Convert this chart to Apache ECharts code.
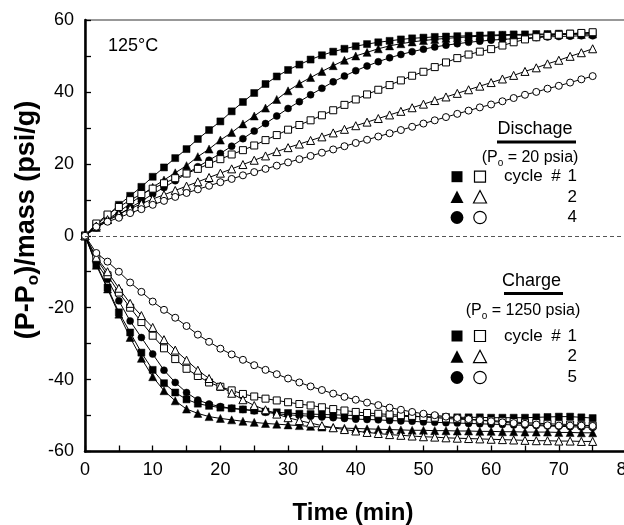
<!DOCTYPE html>
<html>
<head>
<meta charset="utf-8">
<script src="https://cdn.jsdelivr.net/npm/echarts@6/dist/echarts.min.js"></script>
<style>
html,body{margin:0;padding:0;background:#fff;}
#chart{width:624px;height:525px;}
</style>
</head>
<body>
<div id="chart"></div>
<script>
// Time axis (min)
var times = [0,1.67,3.33,5, 6.67,8.33,10, 11.67,13.33,15, 16.67,18.33,20, 21.67,23.33,25, 26.67,28.33,30, 31.67,33.33,35, 36.67,38.33,40, 41.67,43.33,45, 46.67,48.33,50, 51.67,53.33,55, 56.67,58.33,60, 61.67,63.33,65, 66.67,68.33,70, 71.67,73.33,75];

// Discharge (Po = 20 psia)
var disCycle1Filled = [0,3.0,5.6,8.6, 11.1,13.6,16.4, 19.0,21.6,24.1, 26.9,29.4,31.8, 34.6,37.2,39.7, 42.2,44.3,46.1, 47.6,49.0,50.2, 51.2,52.0,52.7, 53.3,53.8,54.2, 54.6,54.9,55.1, 55.3,55.4,55.5, 55.6,55.7,55.8, 55.9,56.0,56.0, 56.1,56.1,56.2, 56.2,56.3,56.3];
var disCycle2Filled = [0,2.3,4.5,6.7, 8.9,11.2,13.5, 15.5,17.5,19.5, 22.0,24.1,26.6, 28.7,31.1,33.3, 35.5,37.9,40.3, 42.3,44.0,45.7, 47.3,48.8,50.0, 51.0,52.0,52.8, 53.4,53.9,54.3, 54.6,54.9,55.1, 55.3,55.5,55.6, 55.7,55.8,55.8, 55.9,55.9,56.0, 56.0,56.0,56.1];
var disCycle4Filled = [0,2.2,4.1,5.9, 7.8,9.6,11.6, 13.4,15.3,17.3, 19.2,21.0,22.9, 24.9,27.0,29.1, 31.2,33.3,35.4, 37.3,39.2,41.0, 42.8,44.4,45.9, 47.2,48.4,49.5, 50.4,51.2,51.9, 52.5,53.0,53.4, 53.8,54.1,54.4, 54.6,54.8,55.0, 55.1,55.3,55.4, 55.5,55.6,55.6];
var disCycle1Open = [0,3.4,5.9,8.0, 9.9,11.6,13.1, 14.6,16.0,17.3, 18.6,20.0,21.3, 22.6,23.8,25.1, 26.6,28.0,29.5, 30.8,32.1,33.5, 34.9,36.4,37.9, 39.3,40.6,41.9, 43.2,44.5,45.6, 46.9,48.2,49.4, 50.4,51.2,51.9, 52.9,53.8,54.6, 55.2,55.6,55.9, 56.2,56.4,56.6];
var disCycle2Open = [0,2.7,4.5,6.0, 7.5,8.9,10.2, 11.4,12.6,13.8, 15.0,16.2,17.4, 18.6,19.8,21.0, 22.2,23.4,24.5, 25.5,26.5,27.5, 28.6,29.6,30.6, 31.6,32.6,33.6, 34.6,35.6,36.6, 37.6,38.6,39.6, 40.6,41.6,42.6, 43.6,44.6,45.7, 46.7,47.8,48.8, 49.9,50.9,52.0];
var disCycle4Open = [0,2.5,3.9,5.0, 6.3,7.4,8.6, 9.7,10.8,11.9, 12.9,13.9,14.9, 15.8,16.8,17.7, 18.6,19.5,20.4, 21.3,22.2,23.1, 24.0,24.9,25.8, 26.7,27.6,28.5, 29.4,30.3,31.2, 32.1,33.0,33.9, 34.8,35.7,36.5, 37.4,38.3,39.2, 40.0,40.9,41.7, 42.6,43.5,44.4];

// Charge (Po = 1250 psia)
var chgCycle1Filled = [0,-7.9,-14.4,-21.3, -26.9,-32.5,-37.3, -41.0,-43.6,-45.5, -46.7,-47.3,-47.8, -48.0,-48.3,-48.6, -48.9,-49.1,-49.3, -49.5,-49.6,-49.7, -49.8,-49.9,-50.0, -50.0,-50.1,-50.2, -50.2,-50.3,-50.3, -50.4,-50.4,-50.5, -50.5,-50.5,-50.6, -50.6,-50.6,-50.6, -50.5,-50.4,-50.3, -50.3,-50.5,-50.7];
var chgCycle2Filled = [0,-8.2,-14.8,-21.8, -28.3,-34.1,-39.2, -43.1,-45.9,-48.2, -49.4,-50.3,-50.8, -51.2,-51.6,-51.9, -52.2,-52.4,-52.6, -52.8,-53.0,-53.2, -53.3,-53.5,-53.6, -53.7,-53.8,-53.9, -54.0,-54.1,-54.1, -54.2,-54.2,-54.3, -54.3,-54.4,-54.4, -54.5,-54.5,-54.6, -54.6,-54.6,-54.7, -54.7,-54.8,-54.8];
var chgCycle5Filled = [0,-7.4,-12.1,-18.1, -23.7,-28.3,-32.9, -37.4,-40.8,-43.6, -45.7,-46.8,-47.5, -48.0,-48.3,-48.7, -49.1,-49.5,-49.8, -50.0,-50.2,-50.4, -50.6,-50.8,-51.0, -51.1,-51.2,-51.4, -51.5,-51.6,-51.8, -51.9,-52.0,-52.1, -52.2,-52.3,-52.4, -52.5,-52.6,-52.7, -52.8,-52.9,-53.0, -53.1,-53.2,-53.3];
var chgCycle1Open = [0,-6.3,-11.0,-15.8, -20.0,-24.0,-27.8, -31.3,-34.3,-37.0, -39.0,-40.8,-42.0, -43.0,-44.0,-44.7, -45.3,-45.8,-46.3, -46.8,-47.2,-47.7, -48.2,-48.6,-49.0, -49.3,-49.5,-49.7, -49.9,-50.1,-50.4, -50.6,-50.8,-51.0, -51.1,-51.3,-51.4, -51.6,-51.8,-52.0, -52.1,-52.3,-52.4, -52.5,-52.7,-52.8];
var chgCycle2Open = [0,-6.0,-10.0,-14.6, -18.8,-22.2,-25.5, -28.9,-31.8,-34.6, -37.4,-39.7,-41.8, -43.8,-45.6,-47.2, -48.4,-49.6,-50.6, -51.4,-52.1,-52.8, -53.4,-53.9,-54.3, -54.7,-55.0,-55.3, -55.5,-55.7,-55.9, -56.0,-56.2,-56.3, -56.4,-56.5,-56.6, -56.7,-56.8,-56.9, -57.0,-57.0,-57.1, -57.1,-57.2,-57.2];
var chgCycle5Open = [0,-4.8,-7.2,-10.0, -13.0,-15.6,-18.3, -20.6,-22.8,-25.1, -27.5,-29.5,-31.4, -33.0,-34.5,-36.0, -37.3,-38.5,-39.7, -40.8,-41.9,-42.9, -43.9,-44.8,-45.6, -46.4,-47.1,-47.8, -48.4,-49.0,-49.5, -49.9,-50.3,-50.7, -51.0,-51.3,-51.6, -51.9,-52.1,-52.3, -52.5,-52.7,-52.8, -52.8,-52.8,-52.9];

var xTicks = [0,10,20,30,40,50,60,70,80];
var yTicks = [-60,-40,-20,0,20,40,60];

var FONT = "'Liberation Sans', Arial, Helvetica, sans-serif";

function pairs(vals){ return times.map(function(t,i){ return [t, vals[i]]; }); }

function mkSeries(name, vals, symbol, filled, size){
  return {
    name: name, type: 'line', data: pairs(vals),
    symbol: symbol, symbolSize: size, showSymbol: true,
    lineStyle: {color: '#000', width: 1},
    itemStyle: filled ? {color: '#000', borderColor: '#000', borderWidth: 0.5}
                      : {color: '#fff', borderColor: '#000', borderWidth: 1},
    z: filled ? 3 : 4,
    animation: false, silent: true
  };
}

var series = [
  mkSeries('D1f', disCycle1Filled, 'rect', true, 7),
  mkSeries('D2f', disCycle2Filled, 'triangle', true, 8),
  mkSeries('D4f', disCycle4Filled, 'circle', true, 7),
  mkSeries('D1o', disCycle1Open, 'rect', false, 7),
  mkSeries('D2o', disCycle2Open, 'triangle', false, 8),
  mkSeries('D4o', disCycle4Open, 'circle', false, 7),
  mkSeries('C1f', chgCycle1Filled, 'rect', true, 7),
  mkSeries('C2f', chgCycle2Filled, 'triangle', true, 8),
  mkSeries('C5f', chgCycle5Filled, 'circle', true, 7),
  mkSeries('C1o', chgCycle1Open, 'rect', false, 7),
  mkSeries('C2o', chgCycle2Open, 'triangle', false, 8),
  mkSeries('C5o', chgCycle5Open, 'circle', false, 7)
];
series[0].markLine = {
  silent: true, symbol: 'none', animation: false,
  label: {show: false},
  lineStyle: {type: [4, 3], color: '#555', width: 1.2},
  data: [{yAxis: 0}]
};

// legend graphics helpers (layout only)
function sq(cx, cy, filled){
  return {type:'rect', shape:{x:cx-5.5, y:cy-5.5, width:11, height:11},
    style:{fill: filled?'#000':'#fff', stroke:'#000', lineWidth: filled?0:1.2}};
}
function tri(cx, cy, filled){
  return {type:'polygon', shape:{points:[[cx, cy-6.5],[cx+6.5, cy+6],[cx-6.5, cy+6]]},
    style:{fill: filled?'#000':'#fff', stroke:'#000', lineWidth: filled?0:1.2}};
}
function circ(cx, cy, filled){
  return {type:'circle', shape:{cx:cx, cy:cy, r: filled?6.4:6.2},
    style:{fill: filled?'#000':'#fff', stroke:'#000', lineWidth: filled?0:1.2}};
}
function txt(x, y, s, size, align, weight){
  return {type:'text', x:x, y:y, style:{text:s, font:(weight||'normal')+' '+size+'px '+FONT, fill:'#000', align:align||'left', verticalAlign:'middle'}};
}
function subTxt(x, y, pre, post, size){
  return {type:'text', x:x, y:y, style:{
    text: pre + '{s|o}' + post,
    font: size+'px '+FONT, fill:'#000', align:'center', verticalAlign:'middle',
    lineHeight: size+4,
    rich: {s:{fontSize: Math.round(size*0.65), fontFamily: FONT, verticalAlign:'bottom', lineHeight: Math.round(size*0.65), fill:'#000'}}
  }};
}
function legendBlock(title, tx, ty, ux1, ux2, uy, sub1, sub2, subx, suby, rows, nums){
  var g = [];
  g.push(txt(tx, ty, title, 18, 'center'));
  g.push({type:'rect', shape:{x:ux1, y:uy-1.5, width:ux2-ux1, height:3}, style:{fill:'#000'}});
  g.push(subTxt(subx, suby, sub1, sub2, 16));
  var mk = [[sq],[tri],[circ]];
  for (var i=0;i<3;i++){
    var f = mk[i][0];
    g.push(f(457, rows[i], true));
    g.push(f(480, rows[i], false));
    g.push(txt(577, rows[i], nums[i], 17, 'right'));
  }
  g.push(txt(504, rows[0], 'cycle', 17, 'left'));
  g.push(txt(556, rows[0], '#', 17, 'center'));
  return g;
}

var graphics = [];
graphics.push(txt(108, 46, '125°C', 18, 'left'));
graphics = graphics.concat(legendBlock('Dischage', 535, 129, 497, 576, 142, '(P', ' = 20 psia)', 530, 158, [176.7, 197, 217.5], ['1','2','4']));
graphics = graphics.concat(legendBlock('Charge', 531.5, 281, 504, 563, 293.5, '(P', ' = 1250 psia)', 523, 311, [336, 356.7, 377.5], ['1','2','5']));
// axis titles
graphics.push({type:'text', x:27, y:220, rotation: Math.PI/2, style:{
  text: '(P-P{s|o})/mass (psi/g)', font: 'bold 27px '+FONT, fill:'#000', align:'center', verticalAlign:'middle', lineHeight: 30,
  rich: {s:{fontSize:17, fontWeight:'bold', fontFamily: FONT, verticalAlign:'bottom', lineHeight: 17, fill:'#000'}}
}});
graphics.push(txt(353, 513, 'Time (min)', 24, 'center', 'bold'));

var chart = echarts.init(document.getElementById('chart'), null, {renderer:'canvas'});
chart.setOption({
  animation: false,
  backgroundColor: '#fff',
  grid: {left: 85, top: 20, width: 541.5, height: 431.5, show: true, borderColor: '#777', borderWidth: 1.5, containLabel: false, outerBoundsMode: 'none'},
  xAxis: {
    type: 'value', min: xTicks[0], max: xTicks[xTicks.length-1], interval: 10,
    axisLine: {show: true, onZero: false, lineStyle: {color: '#000', width: 2.5}},
    axisTick: {show: true, inside: true, length: 6, lineStyle: {color: '#000', width: 1.3}},
    minorTick: {show: true, splitNumber: 2, length: 6, lineStyle: {color: '#000', width: 1.3}},
    axisLabel: {fontSize: 18, color: '#000', fontFamily: FONT, margin: 10, hideOverlap: false},
    splitLine: {show: false}
  },
  yAxis: {
    type: 'value', min: yTicks[0], max: yTicks[yTicks.length-1], interval: 20,
    axisLine: {show: true, onZero: false, lineStyle: {color: '#000', width: 2.5}},
    axisTick: {show: true, inside: true, length: 6, lineStyle: {color: '#000', width: 1.3}},
    minorTick: {show: true, splitNumber: 2, length: 6, lineStyle: {color: '#000', width: 1.3}},
    axisLabel: {fontSize: 18, color: '#000', fontFamily: FONT, margin: 11},
    splitLine: {show: false}
  },
  series: series,
  graphic: {elements: graphics}
});
</script>
</body>
</html>
